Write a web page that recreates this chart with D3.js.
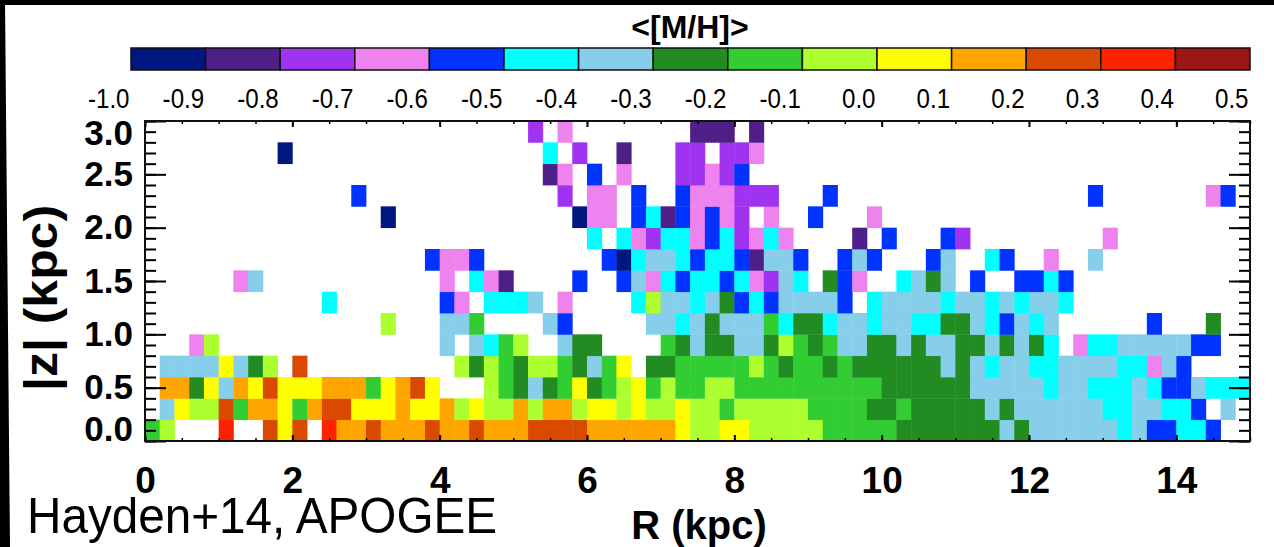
<!DOCTYPE html>
<html><head><meta charset="utf-8">
<script src="https://cdn.jsdelivr.net/npm/d3@7"></script>
<style>
html,body{margin:0;padding:0;background:#fff;}
svg{display:block;}
text{font-family:"Liberation Sans",Arial,Helvetica,sans-serif;}
</style></head><body>
<svg id="chart" width="1274" height="547"></svg>
<script>
// ---------- colour bins of <[M/H]> ----------
const binEdges = [-1.0,-0.9,-0.8,-0.7,-0.6,-0.5,-0.4,-0.3,-0.2,-0.1,0.0,0.1,0.2,0.3,0.4,0.5];
const binColors = ["#00177f","#4f1f88","#a033ef","#ee82ee","#0033ff","#00ffff","#87ceeb",
                   "#228b22","#32cd32","#adff2f","#ffff00","#ffa500","#d94a00","#ff2200","#9c1616"];
const colorbarTicks = [-1.0,-0.9,-0.8,-0.7,-0.6,-0.5,-0.4,-0.3,-0.2,-0.1,0.0,0.1,0.2,0.3,0.4,0.5];
// bin-centre [M/H] value for each cell code ('.' = no data)
const cellCodes = "0123456789abcde";
const binMid = [-0.95,-0.85,-0.75,-0.65,-0.55,-0.45,-0.35,-0.25,-0.15,-0.05,0.05,0.15,0.25,0.35,0.45];

// ---------- axes ----------
const xTicksMajor = [0,2,4,6,8,10,12,14];
const xTicksMinor = [0,0.5,1,1.5,2,2.5,3,3.5,4,4.5,5,5.5,6,6.5,7,7.5,8,8.5,9,9.5,10,10.5,11,11.5,12,12.5,13,13.5,14,14.5,15];
const yTicksMajor = [0,0.5,1.0,1.5,2.0,2.5,3.0];
const yTicksMinor = [0,0.1,0.2,0.3,0.4,0.5,0.6,0.7,0.8,0.9,1.0,1.1,1.2,1.3,1.4,1.5,1.6,1.7,1.8,1.9,2.0,2.1,2.2,2.3,2.4,2.5,2.6,2.7,2.8,2.9,3.0];
const rBinWidth = 0.2;   // kpc
const zBinHeight = 0.2;  // kpc

// ---------- map of <[M/H]>: one string per |z| row (bottom row first), one char per R bin ----------
const mhRows = [
  "89...d..cac.dbbcbbbcbbcbb" + "bccccbbbbbba99aa99999888887" + "777777676666665644554..",
  ".6a99c8bba8bccaaabaab9a99" + "b9bb9aa9a99a998999998888778" + "77777676666665566554.6.",
  ".bb7a6bacaaabbb8abca...98" + "7678a789a898899888888888877" + "77776666656655565446555",
  ".6666a679.c..........9798" + "7998768a.778888898788787777" + "7767656655666655364....",
  "...39...............6.658" + "9..677....87677667987866776" + "7667767675.3556666644..",
  "................9...668.." + "..64.....665676668577566566" + "5577654656......4...7..",
  "............5.......43.55" + "56.3....596656745466664.566" + "66566565665............",
  "......36............3.531" + "....4..4635455453265.743..5" + "676.4..4454............",
  "...................4334.." + "......40566545541664..464.." + ".46..54..3..6..........",
  "........................." + ".....5.532553452353....1.4." + "..42.........3.........",
  "................0........" + "....033.45143432.3..4...3.." + ".......................",
  "..............4.........." + "...2.33.4..4333222...4....." + "............4.......34.",
  "........................." + "..13.4.3...22324..........." + ".......................",
  ".........0..............." + "..5.2..1...22.223.........." + ".......................",
  "........................." + ".2.3........111.1.........." + "......................."
];

const W = 1274, H = 547;
const svg = d3.select("#chart");

// dark slide border seen on top and left of the picture
svg.append("rect").attr("x",0).attr("y",0).attr("width",W).attr("height",5).attr("fill","#000");
svg.append("polygon").attr("points","0,0 5,0 10,547 0,547").attr("fill","#000");

const x = d3.scaleLinear().domain([0,15]).range([145,1250]);
const y = d3.scaleLinear().domain([0,3]).range([441,121]);
const color = d3.scaleThreshold().domain(binEdges.slice(1,-1)).range(binColors);

// cells
const cells = [];
mhRows.forEach((row,j)=>{
  for(let i=0;i<row.length;i++){
    const ch = row[i];
    if(ch===".") continue;
    cells.push({r:i*rBinWidth, z:j*zBinHeight, v:binMid[cellCodes.indexOf(ch)]});
  }
});
const cw = x(rBinWidth)-x(0), chh = y(0)-y(zBinHeight);
svg.append("g").selectAll("rect").data(cells).join("rect")
  .attr("x",d=>x(d.r)).attr("y",d=>y(d.z+zBinHeight))
  .attr("width",cw+0.4).attr("height",chh+0.4)
  .attr("fill",d=>color(d.v));

// axes helpers
function styleAxis(g, sw){
  g.select(".domain").remove();
  g.selectAll(".tick line").attr("stroke","#000").attr("stroke-width",sw);
}
const FF = "'Liberation Sans',Arial,sans-serif";
// bottom
let g = svg.append("g").attr("transform","translate(0,441)")
  .call(d3.axisBottom(x).tickValues(xTicksMinor).tickSize(-3).tickFormat(""));
styleAxis(g,1.5);
g = svg.append("g").attr("transform","translate(0,441)")
  .call(d3.axisBottom(x).tickValues(xTicksMajor).tickSize(-6).tickPadding(26).tickFormat(d=>String(d)));
styleAxis(g,2);
g.selectAll("text").attr("font-size",37).attr("font-weight","bold").attr("fill","#000")
  .attr("font-family",FF);
// top
g = svg.append("g").attr("transform","translate(0,121)")
  .call(d3.axisTop(x).tickValues(xTicksMinor).tickSize(-3).tickFormat(""));
styleAxis(g,1.5);
g = svg.append("g").attr("transform","translate(0,121)")
  .call(d3.axisTop(x).tickValues(xTicksMajor).tickSize(-6).tickFormat(""));
styleAxis(g,2);
// left
g = svg.append("g").attr("transform","translate(145,0)")
  .call(d3.axisLeft(y).tickValues(yTicksMinor).tickSize(-11).tickFormat(""));
styleAxis(g,2);
g = svg.append("g").attr("transform","translate(145,0)")
  .call(d3.axisLeft(y).tickValues(yTicksMajor).tickSize(-21).tickPadding(12).tickFormat(d=>d.toFixed(1)));
styleAxis(g,2);
g.selectAll("text").attr("font-size",35).attr("font-weight","bold").attr("fill","#000")
  .attr("font-family",FF)
  .attr("y",d=> d===3 ? 12 : (d===0 ? -12 : 0));
// right
g = svg.append("g").attr("transform","translate(1250,0)")
  .call(d3.axisRight(y).tickValues(yTicksMinor).tickSize(-11).tickFormat(""));
styleAxis(g,2);
g = svg.append("g").attr("transform","translate(1250,0)")
  .call(d3.axisRight(y).tickValues(yTicksMajor).tickSize(-21).tickFormat(""));
styleAxis(g,2);

// frame
svg.append("rect").attr("x",145).attr("y",121).attr("width",1105).attr("height",320)
  .attr("fill","none").attr("stroke","#111").attr("stroke-width",2);

// axis titles
svg.append("text").attr("x",699).attr("y",539).attr("text-anchor","middle")
  .attr("font-size",40).attr("font-weight","bold").text("R (kpc)");
svg.append("text").attr("transform","translate(57,298) rotate(-90)").attr("text-anchor","middle")
  .attr("font-size",46).attr("font-weight","bold")
  .attr("textLength",186).attr("lengthAdjust","spacingAndGlyphs").text("|z| (kpc)");
svg.append("text").attr("x",27).attr("y",533).attr("font-size",50)
  .attr("textLength",470).attr("lengthAdjust","spacingAndGlyphs").text("Hayden+14, APOGEE");

// ---------- colour bar ----------
const cbx = d3.scaleLinear().domain([-1.0,0.5]).range([131,1250]);
const cbY = 48, cbH = 22;
svg.append("g").selectAll("rect").data(binColors).join("rect")
  .attr("x",(c,i)=>cbx(binEdges[i])).attr("y",cbY)
  .attr("width",(c,i)=>cbx(binEdges[i+1])-cbx(binEdges[i])).attr("height",cbH)
  .attr("fill",c=>c).attr("stroke","#111").attr("stroke-width",1.5);
g = svg.append("g").attr("transform",`translate(0,${cbY+cbH})`)
  .call(d3.axisBottom(cbx).tickValues(colorbarTicks).tickSize(0).tickPadding(18).tickFormat(d=>d.toFixed(1)));
g.select(".domain").remove();
g.selectAll("text").attr("font-size",28).attr("fill","#000")
  .attr("font-family",FF).attr("text-anchor","end").attr("x",-2)
  .each(function(){
    const L = this.getComputedTextLength();
    d3.select(this).attr("textLength",L*0.86).attr("lengthAdjust","spacingAndGlyphs");
  });
svg.append("text").attr("x",690).attr("y",38).attr("text-anchor","middle")
  .attr("font-size",32).attr("font-weight","bold").text("<[M/H]>");
</script>
</body></html>
